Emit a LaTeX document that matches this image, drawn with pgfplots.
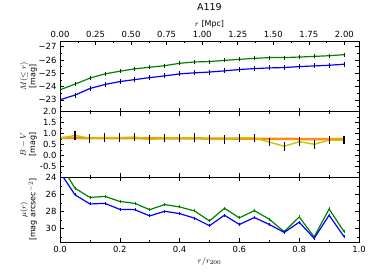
\documentclass[border=0pt]{standalone}
\usepackage{fontspec}
\setmainfont{DejaVu Sans}
\usepackage{pgfplots}
\pgfplotsset{compat=1.18}
\definecolor{mgreen}{rgb}{0,0.5,0}
\definecolor{mblue}{rgb}{0,0,1}
\definecolor{myellow}{rgb}{0.78,0.78,0}
\definecolor{morange}{rgb}{1,0.55,0.05}
\begin{document}
\begin{tikzpicture}
\pgfplotsset{
  every axis/.append style={
    scale only axis, width=299bp, xmin=0, xmax=1,
    tick align=inside, major tick length=4bp, minor tick length=2bp,
    tick style={black, line width=0.5pt},
    /pgf/number format/assume math mode=true,
    tick label style={font=\fontsize{8.5}{9}\selectfont},
    label style={font=\fontsize{8}{9.5}\selectfont},
    axis line style={line width=0.7pt},
    ylabel style={align=center, at={(axis description cs:-0.105,0.5)}, anchor=center},
    xtick={0,0.2,...,1.0}, minor xtick={0.1,0.3,0.5,0.7,0.9},
  }
}
% top panel
\begin{axis}[at={(60bp,168.3bp)}, anchor=south west, height=70.3bp,
  ymin=-27.4, ymax=-22.1, y dir=reverse, ytick={-27,-26,-25,-24,-23},
  yticklabels={−27,−26,−25,−24,−23},
  minor ytick={-27.5,-26.5,-25.5,-24.5,-23.5,-22.5},
  xticklabels={}, xtick pos=bottom,
  ylabel={$M(\leq r)$\\ {[mag]}}]
\addplot[mgreen, line width=1.2pt, mark=|, mark size=2bp, mark options={line width=0.6pt, black!60!mgreen}] coordinates {
(0,-23.75)(0.05,-24.18)(0.1,-24.63)(0.15,-24.95)(0.2,-25.15)(0.25,-25.33)(0.3,-25.45)(0.35,-25.57)(0.4,-25.75)(0.45,-25.85)
(0.5,-25.88)(0.55,-25.97)(0.6,-26.05)(0.65,-26.12)(0.7,-26.18)(0.75,-26.18)(0.8,-26.22)(0.85,-26.27)(0.9,-26.32)(0.95,-26.40)};
\addplot[mblue, line width=1.2pt, mark=|, mark size=2.5bp, mark options={line width=0.6pt, black!60!mblue}] coordinates {
(0,-23.0)(0.05,-23.35)(0.1,-23.85)(0.15,-24.15)(0.2,-24.37)(0.25,-24.52)(0.3,-24.67)(0.35,-24.8)(0.4,-24.95)(0.45,-25.03)
(0.5,-25.09)(0.55,-25.18)(0.6,-25.28)(0.65,-25.35)(0.7,-25.4)(0.75,-25.43)(0.8,-25.5)(0.85,-25.55)(0.9,-25.6)(0.95,-25.68)};
\end{axis}
% top Mpc axis
\begin{axis}[at={(60bp,168.3bp)}, anchor=south west, height=70.3bp,
  xmin=0, xmax=2.103, ymin=0, ymax=1,
  axis x line*=top, axis y line=none,
  xtick={0,0.25,...,2.0}, minor xtick={0.125,0.375,...,2.0},
  xticklabel style={/pgf/number format/.cd, fixed, fixed zerofill, precision=2},
  xlabel={$r$ [Mpc]}, xlabel style={at={(axis description cs:0.5,1)}, anchor=center, yshift=17bp},
  title={A119}, title style={font=\fontsize{9.5}{11}\selectfont, at={(axis description cs:0.5,1)}, anchor=center, yshift=28.5bp}]
\end{axis}
% middle panel
\begin{axis}[at={(60bp,102.7bp)}, anchor=south west, height=65.6bp,
  ymin=-1, ymax=2, ytick={-0.5,0,0.5,1,1.5,2},
  minor ytick={-0.75,-0.25,0.25,0.75,1.25,1.75},
  yticklabel style={/pgf/number format/.cd, fixed, fixed zerofill, precision=1},
  xticklabels={},
  ylabel={$B-V$\\ {[mag]}}]
\addplot[morange, line width=2.5pt] coordinates {
(0,0.80)(0.05,0.80)(0.1,0.79)(0.15,0.79)(0.2,0.79)(0.25,0.79)(0.3,0.78)(0.35,0.78)(0.4,0.78)(0.45,0.78)
(0.5,0.77)(0.55,0.77)(0.6,0.77)(0.65,0.76)(0.7,0.76)(0.75,0.76)(0.8,0.75)(0.85,0.75)(0.9,0.75)(0.95,0.74)};
\addplot[myellow, line width=1.4pt, mark=none,
  error bars/.cd, y dir=both, y explicit, error bar style={black, line width=1.2pt}, error mark=none] coordinates {
(0,0.78) +- (0,0.2)(0.05,0.92) +- (0,0.2)(0.1,0.78) +- (0,0.2)(0.15,0.81) +- (0,0.2)(0.2,0.81) +- (0,0.2)
(0.25,0.84) +- (0,0.2)(0.3,0.72) +- (0,0.2)(0.35,0.80) +- (0,0.2)(0.4,0.80) +- (0,0.2)(0.45,0.81) +- (0,0.2)
(0.5,0.73) +- (0,0.2)(0.55,0.73) +- (0,0.2)(0.6,0.80) +- (0,0.2)(0.65,0.80) +- (0,0.2)(0.7,0.61) +- (0,0.2)
(0.75,0.42) +- (0,0.2)(0.8,0.63) +- (0,0.2)(0.85,0.51) +- (0,0.2)(0.9,0.70) +- (0,0.2)(0.95,0.70) +- (0,0.2)};
\end{axis}
% bottom panel
\begin{axis}[at={(60bp,37.7bp)}, anchor=south west, height=65bp,
  ymin=24, ymax=31.63, y dir=reverse, ytick={24,26,28,30},
  minor ytick={25,27,29,31},
  xticklabel style={/pgf/number format/.cd, fixed, fixed zerofill, precision=1},
  xlabel={$r/r_{200}$}, xlabel style={yshift=2bp},
  ylabel={$\mu(r)$\\ {[mag arcsec$^{-2}$]}}]
\addplot[mgreen, line width=1.2pt, mark=|, mark size=1.5bp, mark options={line width=0.5pt}] coordinates {
(0,22.4)(0.05,25.28)(0.1,26.36)(0.15,26.24)(0.2,26.83)(0.25,27.06)(0.3,27.8)(0.35,27.2)(0.4,27.48)(0.45,27.95)
(0.5,29.12)(0.55,27.64)(0.6,28.76)(0.65,27.91)(0.7,28.92)(0.75,30.39)(0.8,28.65)(0.85,31.0)(0.9,27.72)(0.95,30.39)};
\addplot[mblue, line width=1.2pt, mark=|, mark size=1.5bp, mark options={line width=0.5pt}] coordinates {
(0,23.4)(0.05,26.05)(0.1,27.13)(0.15,27.06)(0.2,27.76)(0.25,27.8)(0.3,28.53)(0.35,27.99)(0.4,28.26)(0.45,28.8)
(0.5,29.68)(0.55,28.45)(0.6,29.54)(0.65,28.72)(0.7,29.54)(0.75,30.47)(0.8,29.27)(0.85,31.17)(0.9,28.45)(0.95,30.97)};
\end{axis}
\path[use as bounding box] (0,0) rectangle (374bp,280bp);
\end{tikzpicture}
\end{document}
